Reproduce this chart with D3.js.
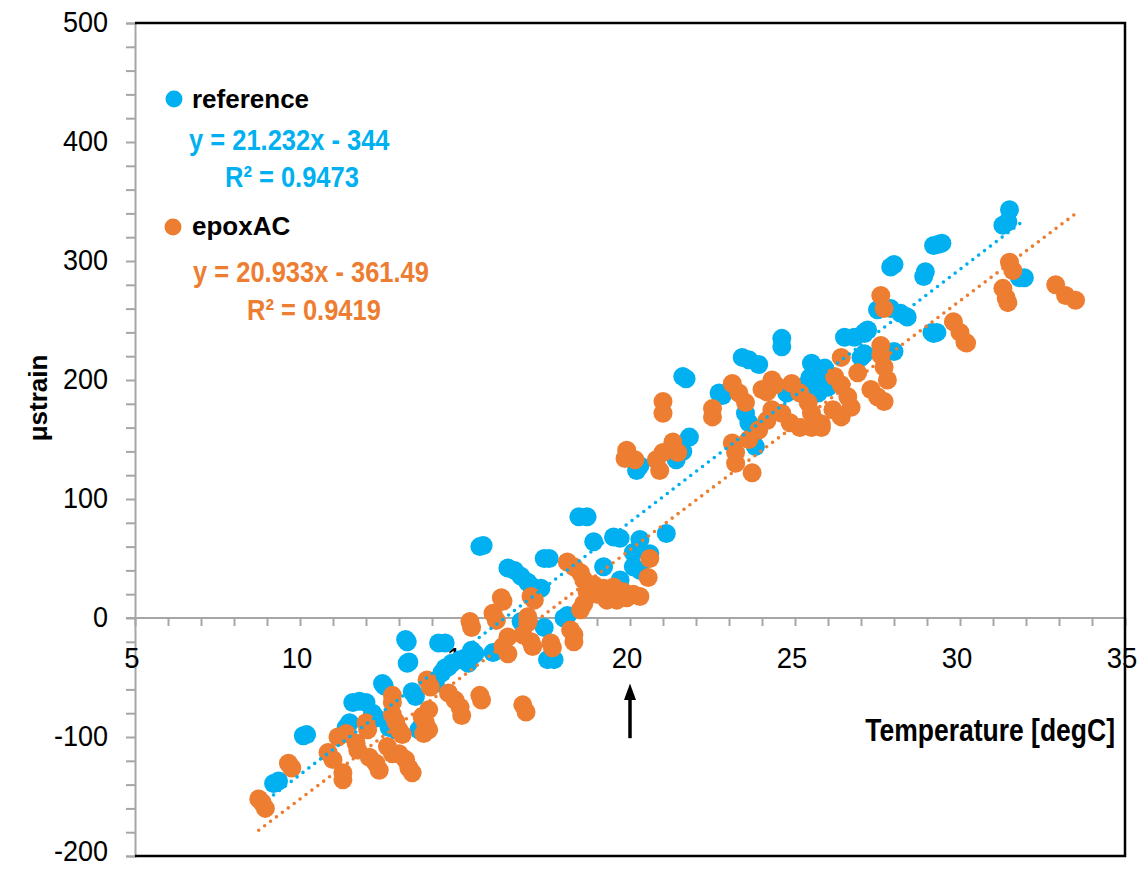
<!DOCTYPE html>
<html>
<head>
<meta charset="utf-8">
<script src="https://cdn.jsdelivr.net/npm/d3@7"></script>
<style>
  html, body { margin: 0; padding: 0; background: #fff; }
  svg { display: block; }
  text { font-family: "Liberation Sans", Arial, sans-serif; }
</style>
</head>
<body>
<svg id="chart" width="1138" height="869"></svg>
<script>
// Strain gauge readings vs. temperature: [temperature degC, microstrain]
const referencePoints = [
  [9.2,-139],[9.35,-137],[10.1,-99],[10.2,-98],
  [11.4,-92],[11.5,-88],[11.6,-71],[11.8,-70],[12.0,-71],
  [12.2,-80],[12.3,-84],[12.5,-55],[12.55,-57],[12.7,-92],[12.9,-94],
  [13.2,-18],[13.25,-20],[13.3,-37],[13.25,-38],[13.4,-62],[13.5,-66],
  [13.6,-94],[13.7,-90],[14.1,-55],[14.3,-46],[14.5,-41],[14.6,-38],
  [14.2,-21],[14.4,-21],[14.4,-42],[14.85,-35],[15.1,-38],
  [15.2,-27],[15.3,-30],[15.85,-29],[15.45,60],[15.55,61],
  [16.3,42],[16.5,40],[16.7,35],[16.9,30],[17.0,27],
  [17.4,50],[17.55,50],[17.3,25],[16.7,-3],[17.4,-8],
  [17.5,-35],[17.7,-35],[18.0,0],[18.1,2],
  [18.45,85],[18.7,85],[18.9,64],[19.5,68],[19.7,67],[20.3,66],[21.1,71],
  [18.8,21],[18.9,26],[19.2,43],[19.7,32],[20.1,43],[20.1,55],[20.6,54],[20.3,40],
  [20.2,124],[20.3,128],[21.4,133],[21.6,140],[21.8,152],
  [21.6,203],[21.7,201],[22.7,189],[22.8,187],
  [23.4,219],[23.6,217],[23.9,213],
  [23.5,172],[23.6,164],[23.7,150],[23.8,144],
  [24.6,235],[24.6,228],
  [24.75,189],[25.2,194],[25.45,202],[25.5,214],[25.7,189],[25.8,200],[26.0,194],[25.9,210],
  [26.5,236],[26.8,236],[27.1,239],[27.0,219],[27.1,222],
  [27.7,224],[28.0,224],[27.1,240],[27.2,242],
  [27.5,259],[28.2,256],[28.4,253],[27.9,260],
  [27.9,295],[28.0,297],[28.9,287],[28.95,291],
  [29.2,313],[29.45,315],[29.35,314],
  [29.15,240],[29.3,240],[29.2,239],
  [31.3,330],[31.45,333],[31.5,343],[31.8,286],[31.95,286]
];

const epoxPoints = [
  [8.75,-152],[8.85,-155],[8.95,-160],[9.65,-122],[9.75,-126],
  [10.85,-113],[11.0,-119],[11.15,-100],[11.4,-97],
  [11.3,-130],[11.3,-136],[11.7,-105],[11.75,-111],
  [12.0,-88],[12.05,-94],[12.1,-117],[12.3,-122],[12.4,-128],
  [12.65,-108],[12.8,-114],[12.8,-65],[12.8,-71],
  [12.8,-81],[12.9,-87],[13.0,-94],[13.1,-98],
  [13.0,-114],[13.2,-119],[13.3,-126],[13.4,-130],
  [13.85,-52],[13.95,-58],[13.7,-83],[13.8,-88],[13.9,-94],[13.75,-97],[13.9,-77],
  [14.5,-63],[14.7,-69],[14.85,-75],[14.9,-82],[15.45,-65],[15.5,-69],
  [15.15,-3],[15.2,-8],[15.85,4],[15.95,-2],[16.1,17],[16.15,14],
  [16.3,-16],[16.15,-24],[16.3,-30],[16.75,-14],[17.0,-20],[17.05,-24],
  [17.0,18],[17.1,15],[16.9,1],[16.9,-4],[17.6,-21],[17.65,-25],
  [16.75,-73],[16.85,-79],
  [18.3,-14],[18.3,-20],[18.2,-10],
  [18.1,47],[18.3,43],[18.5,38],[18.6,32],[18.6,12],[18.5,7],
  [18.7,22],[18.9,28],[19.0,20],[19.2,25],[19.4,18],[19.5,26],[19.6,15],
  [19.8,22],[19.9,17],[20.1,20],[20.3,18],[19.3,15],
  [20.6,50],[20.55,34],
  [19.9,141],[19.85,134],[20.15,133],[20.8,133],[20.9,124],[21.0,139],[21.3,148],[21.45,139],
  [21.0,182],[21.0,172],[22.5,176],[22.5,169],
  [23.1,197],[23.3,189],[23.5,181],[23.1,147],[23.2,139],[23.2,130],[23.7,122],
  [23.6,150],[23.9,158],[24.15,166],[24.3,175],
  [24.0,192],[24.15,190],[24.3,200],[24.4,196],
  [24.6,172],[24.85,164],[25.15,160],[25.5,160],[25.8,163],
  [24.9,197],[25.15,189],[25.4,181],[25.5,172],[25.7,164],[25.8,160],
  [26.2,203],[26.4,196],[26.6,186],[26.7,177],[26.15,175],[26.4,169],
  [26.9,206],[26.4,219],
  [27.6,229],[27.6,221],[27.7,211],[27.8,200],[27.3,192],[27.5,186],[27.7,182],
  [27.6,271],[27.7,260],
  [29.8,249],[30.0,240],[30.15,232],[30.2,231],
  [31.5,299],[31.6,292],[31.3,277],[31.4,269],[31.45,265],
  [32.9,280],[33.2,271],[33.5,267]
];

// Linear trendline coefficients [slope, intercept] and R² values
const referenceFit = [21.232, -344];
const epoxFit = [20.933, -361.49];
const seriesNames = ["reference", "epoxAC"];
const fitLabels = ["y = 21.232x  - 344", "y = 20.933x  - 361.49"];
const r2Labels = ["R\u00B2 = 0.9473", "R\u00B2 = 0.9419"];

const xTicks = [5, 10, 15, 20, 25, 30, 35];
const yTicks = [-200, -100, 0, 100, 200, 300, 400, 500];

const BLUE = "#00B0F0", ORANGE = "#ED7D31", GRID = "#a6a6a6";

const svg = d3.select("#chart");
const x = d3.scaleLinear().domain([5, 35]).range([135, 1125]);
const y = d3.scaleLinear().domain([-200, 500]).range([856, 23]);

// Stretched text helper
function label(g, str, px, py, opts) {
  return g.append("text")
    .attr("transform", `translate(${px},${py}) scale(${opts.sx || 1},${opts.sy || 1})`)
    .attr("font-size", opts.size)
    .attr("font-weight", opts.bold ? "bold" : "normal")
    .attr("fill", opts.fill || "#000")
    .attr("text-anchor", opts.anchor || "start")
    .text(str);
}

// Y axis (left, grey with minor ticks every 20)
const yAxis = svg.append("g").attr("transform", `translate(${x(5)},0)`)
  .call(d3.axisLeft(y).tickValues(d3.range(-200, 501, 20)).tickSize(9).tickFormat(""));
yAxis.select(".domain").attr("stroke", GRID).attr("stroke-width", 2);
yAxis.selectAll(".tick line").attr("stroke", GRID).attr("stroke-width", 2);

// keep the lowest label inside the canvas
yTicks.forEach(v => label(svg, v, 108, Math.min(y(v) + 9, 861), { size: 27, sy: 1.07, anchor: "end" }));

// X axis drawn at strain = 0
const xAxis = svg.append("g").attr("transform", `translate(0,${y(0)})`)
  .call(d3.axisBottom(x).tickValues(d3.range(5, 36, 1)).tickSize(8).tickFormat(""));
xAxis.select(".domain").attr("stroke", GRID).attr("stroke-width", 2).attr("d", `M${x(5) - 9},0H${x(35)}`);
xAxis.selectAll(".tick line").attr("stroke", GRID).attr("stroke-width", 2);

xTicks.forEach(v => label(svg, v, x(v) - 3, y(0) + 50, { size: 27.5, sy: 1.07, anchor: "middle" }));

// Black frame on top, right and bottom
svg.append("path")
  .attr("d", `M${x(5)},${y(500)}H${x(35)}V${y(-200)}H${x(5)}`)
  .attr("fill", "none").attr("stroke", "#000").attr("stroke-width", 2.5);

// Axis titles
label(svg, "Temperature [degC]", 1115, 741, { size: 26.5, bold: true, sy: 1.2, anchor: "end" });
svg.append("text")
  .attr("transform", `translate(47,398) rotate(-90)`)
  .attr("font-size", 26).attr("font-weight", "bold")
  .attr("text-anchor", "middle").text("\u03BCstrain");

// Markers
const plot = svg.append("g");
plot.selectAll("circle.ref").data(referencePoints).join("circle")
  .attr("class", "ref").attr("cx", d => x(d[0])).attr("cy", d => y(d[1]))
  .attr("r", 9.5).attr("fill", BLUE);
plot.selectAll("circle.epox").data(epoxPoints).join("circle")
  .attr("class", "epox").attr("cx", d => x(d[0])).attr("cy", d => y(d[1]))
  .attr("r", 9.5).attr("fill", ORANGE);

// Dotted linear trendlines across each series' temperature range
function trend(points, fit, color) {
  const [x0, x1] = d3.extent(points, d => d[0]);
  const line = d3.line().x(d => x(d)).y(d => y(fit[0] * d + fit[1]));
  plot.append("path").attr("d", line([x0, x1]))
    .attr("fill", "none").attr("stroke", color).attr("stroke-width", 3.6)
    .attr("stroke-linecap", "round").attr("stroke-dasharray", "0 7.4");
}
trend(referencePoints, referenceFit, BLUE);
trend(epoxPoints, epoxFit, ORANGE);

// Legend with regression equations
const lg = svg.append("g");
lg.append("circle").attr("cx", 174).attr("cy", 99).attr("r", 8.5).attr("fill", BLUE);
label(lg, seriesNames[0], 192, 108, { size: 26, bold: true });
label(lg, fitLabels[0], 189, 150, { size: 25.5, bold: true, sy: 1.18, fill: BLUE });
label(lg, r2Labels[0], 225, 187, { size: 25.5, bold: true, sy: 1.18, fill: BLUE });
lg.append("circle").attr("cx", 173).attr("cy", 227).attr("r", 8.5).attr("fill", ORANGE);
label(lg, seriesNames[1], 192, 235, { size: 26, bold: true });
label(lg, fitLabels[1], 193, 282, { size: 25.5, bold: true, sy: 1.18, fill: ORANGE });
label(lg, r2Labels[1], 247, 320, { size: 25.5, bold: true, sy: 1.18, fill: ORANGE });

// Arrow marking 20 degC
const ax = x(20);
svg.append("line").attr("x1", ax).attr("x2", ax)
  .attr("y1", y(-101)).attr("y2", y(-62))
  .attr("stroke", "#000").attr("stroke-width", 3.5);
svg.append("path")
  .attr("d", `M${ax},${y(-55)}L${ax - 6},${y(-69)}L${ax + 6},${y(-69)}Z`)
  .attr("fill", "#000");
</script>
</body>
</html>
